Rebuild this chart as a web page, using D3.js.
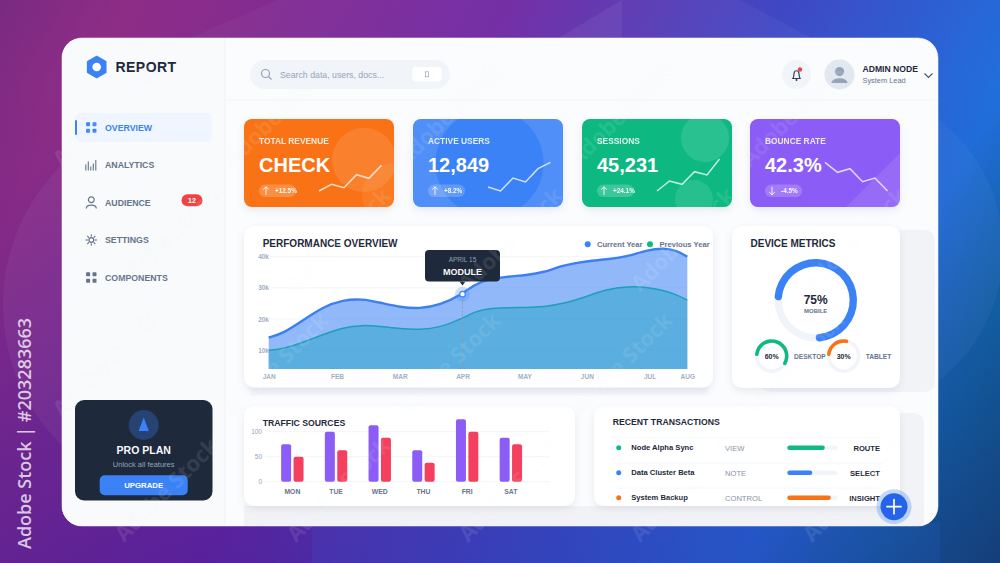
<!DOCTYPE html>
<html>
<head>
<meta charset="utf-8">
<script src="https://cdn.jsdelivr.net/npm/d3@7"></script>
<style>
    body { margin: 0; background: #3a2a9a; overflow: hidden; }
    svg { display: block; font-family: "Liberation Sans", Arial, sans-serif; }
</style>
</head>
<body>
<div class="container"></div>
<script>
// Chart values
const navItems = ["OVERVIEW", "ANALYTICS", "AUDIENCE", "SETTINGS", "COMPONENTS"]

const kpiTitles = ["TOTAL REVENUE", "ACTIVE USERS", "SESSIONS", "BOUNCE RATE"]
const kpiValues = ["CHECK", "12,849", "45,231", "42.3%"]
const kpiChanges = ["+12.5%", "+8.2%", "+24.1%", "-4.5%"]
const kpiColors = ["#f97316", "#3b82f6", "#10b981", "#8b5cf6"]
const kpiSparks = [
    [0, 6.7, 3.3, 16.3, 12.7, 25.7],
    [4, 0, 13, 9, 22.3, 28.7],
    [0, 10, 6.7, 19.3, 16, 32],
    [28.7, 18.7, 22.3, 9.3, 13, 0]
]

const months = ["JAN", "FEB", "MAR", "APR", "MAY", "JUN", "JUL", "AUG"]
const monthPos = [0, 16.3, 31.3, 46.3, 61.1, 76, 91, 100]
const samplePos = [0, 3.5, 8.3, 13.1, 17.8, 22.2, 26.6, 31.4, 36.1, 40.9, 46.3, 48.9, 52.1, 56.8, 61.6, 65.6, 70.4, 76, 80.7, 85.5, 90.3, 94.3, 97.5, 100]
const currentYear = [14.1, 15.4, 19.7, 24.0, 26.1, 26.5, 25.3, 23.8, 23.3, 24.5, 28.0, 30.9, 32.7, 33.6, 34.1, 34.9, 37.3, 38.6, 39.1, 40.0, 42.1, 42.8, 42.0, 40.0]
const previousYear = [10, 10.4, 12.6, 15.1, 17.3, 18.1, 17.7, 16.9, 16.6, 17.3, 20.2, 22.2, 23.4, 23.7, 23.7, 23.9, 24.9, 27.3, 29.5, 30.5, 30.3, 29.2, 27.8, 26.1]
const perfTicks = [10, 20, 30, 40]

const deviceNames = ["MOBILE", "DESKTOP", "TABLET"]
const deviceValues = [75, 60, 30]
const deviceColors = ["#3b82f6", "#10b981", "#f97316"]

const days = ["MON", "TUE", "WED", "THU", "FRI", "SAT"]
const trafficA = [75, 100, 113, 63, 125, 88]
const trafficB = [50, 63, 88, 38, 100, 75]
const trafficTicks = [0, 50, 100]

const txNames = ["Node Alpha Sync", "Data Cluster Beta", "System Backup"]
const txTags = ["VIEW", "NOTE", "CONTROL"]
const txProgress = [75, 50, 87]
const txActions = ["ROUTE", "SELECT", "INSIGHT"]
const txColors = ["#10b981", "#3b82f6", "#f97316"]

const svg = d3.select(".container")
    .append("svg")
    .attr("width", 1000)
    .attr("height", 563)

const defs = svg.append("defs")

function linear(id, x1, y1, x2, y2, stops) {
    const g = defs.append("linearGradient")
        .attr("id", id)
        .attr("gradientUnits", "userSpaceOnUse")
        .attr("x1", x1).attr("y1", y1).attr("x2", x2).attr("y2", y2)
    stops.forEach(s => g.append("stop")
        .attr("offset", s[0])
        .attr("stop-color", s[1])
        .attr("stop-opacity", s[2] === undefined ? 1 : s[2]))
}

linear("bg", 0, 0, 1000, 563, [[0, "#7a2a82"], [0.1, "#8e2d86"], [0.39, "#7029a4"], [0.6, "#4048c4"], [0.8, "#2070dc"], [0.9, "#0c6aa0"], [1, "#0a5570"]])
linear("bgShade", 0, 80, 0, 563, [[0, "#2a128a", 0], [1, "#2a128a", 0.34]])

const shadow = defs.append("filter").attr("id", "shadow")
    .attr("x", "-15%").attr("y", "-15%").attr("width", "130%").attr("height", "140%")
shadow.append("feDropShadow")
    .attr("dx", 0).attr("dy", 3).attr("stdDeviation", 3)
    .attr("flood-color", "#64748b").attr("flood-opacity", 0.14)

const soft = defs.append("filter").attr("id", "soft")
    .attr("x", "-10%").attr("y", "-10%").attr("width", "120%").attr("height", "120%")
soft.append("feGaussianBlur").attr("stdDeviation", 1.5)

defs.append("clipPath").attr("id", "panelClip")
    .append("rect")
    .attr("x", 62).attr("y", 38).attr("width", 876).attr("height", 488).attr("rx", 20)

// Little helper for all the labels
function label(parent, x, y, str, size, color, weight, anchor) {
    return parent.append("text")
        .attr("x", x)
        .attr("y", y)
        .attr("font-size", size)
        .attr("fill", color)
        .attr("font-weight", weight || "normal")
        .attr("text-anchor", anchor || "start")
        .text(str)
}

// Background
svg.append("rect").attr("width", 1000).attr("height", 563).attr("fill", "url(#bg)")
svg.append("rect").attr("width", 1000).attr("height", 563).attr("fill", "url(#bgShade)")
svg.append("circle").attr("cx", 200).attr("cy", 305).attr("r", 197).attr("fill", "#fff").attr("opacity", 0.045)
svg.append("circle").attr("cx", 838).attr("cy", 250).attr("r", 165).attr("fill", "#fff").attr("opacity", 0.035)
svg.append("path").attr("d", "M185,40L278,0H622V40Z").attr("fill", "#fff").attr("opacity", 0.03)
svg.append("path").attr("d", "M555,40L622,0V40Z").attr("fill", "#fff").attr("opacity", 0.06)
svg.append("path").attr("d", "M622,0H740L815,40H622Z").attr("fill", "#fff").attr("opacity", 0.04)
svg.append("rect").attr("x", 312).attr("y", 523).attr("width", 628).attr("height", 40).attr("fill", "#3b82f6").attr("opacity", 0.1)

// Main panel
svg.append("rect")
    .attr("x", 62).attr("y", 38).attr("width", 876).attr("height", 488).attr("rx", 20)
    .attr("fill", "#fbfcfe")
    .attr("stroke", "#fff").attr("stroke-opacity", 0.5)

const panel = svg.append("g").attr("clip-path", "url(#panelClip)")
panel.append("rect").attr("x", 62).attr("y", 38).attr("width", 163).attr("height", 488).attr("fill", "#f8fafc")
panel.append("line").attr("x1", 225).attr("x2", 225).attr("y1", 38).attr("y2", 526).attr("stroke", "#f1f5f9")
panel.append("line").attr("x1", 225).attr("x2", 938).attr("y1", 100).attr("y2", 100).attr("stroke", "#f1f5f9")

// Gray blocks that sit behind the lower cards
panel.append("rect").attr("x", 760).attr("y", 230).attr("width", 175).attr("height", 162).attr("rx", 10).attr("fill", "#f1f3f6")
panel.append("rect").attr("x", 610).attr("y", 413).attr("width", 314).attr("height", 130).attr("rx", 10).attr("fill", "#f1f3f6")
panel.append("rect").attr("x", 244).attr("y", 506).attr("width", 680).attr("height", 30).attr("fill", "#f1f2f6")
panel.append("rect").attr("x", 250).attr("y", 385).attr("width", 458).attr("height", 10).attr("fill", "#f1f4f8").attr("filter", "url(#soft)")

// Logo
const hex = d3.range(6).map(i => {
    const a = Math.PI / 3 * i - Math.PI / 2
    return [96.7 + 10.5 * Math.cos(a), 67 + 10.5 * Math.sin(a)]
})
svg.append("path").attr("d", d3.line().curve(d3.curveLinearClosed)(hex))
    .attr("fill", "#3b82f6").attr("stroke", "#3b82f6").attr("stroke-width", 1.5).attr("stroke-linejoin", "round")
svg.append("circle").attr("cx", 96.7).attr("cy", 67).attr("r", 4.3).attr("fill", "#fff")
label(svg, 115.5, 71.5, "REPORT", 14, "#1e293b", "bold").attr("letter-spacing", 0.45)

// Sidebar
const navY = d3.scalePoint().domain(navItems).range([127.5, 277.5])
svg.append("rect").attr("x", 75).attr("y", 113).attr("width", 137).attr("height", 29).attr("rx", 6).attr("fill", "#eff6ff")
svg.append("rect").attr("x", 75).attr("y", 120).attr("width", 2).attr("height", 15).attr("rx", 1).attr("fill", "#3b82f6")

navItems.forEach((name, i) => {
    const y = navY(name)
    const color = i === 0 ? "#3b82f6" : "#64748b"
    label(svg, 105, y + 3.1, name, 8.75, color, "bold")
    const icon = svg.append("g").attr("transform", `translate(91.3, ${y})`)
    if (i === 0 || i === 4) {
        [[-5.2, -5.2], [1.2, -5.2], [-5.2, 1.2], [1.2, 1.2]].forEach(p => {
            icon.append("rect").attr("x", p[0]).attr("y", p[1]).attr("width", 4).attr("height", 4).attr("rx", 0.7).attr("fill", color)
        })
    }
    if (i === 1) {
        [[-5.5, 6], [-3, 9], [-0.5, 4], [2, 7], [4.5, 10.5]].forEach(b => {
            icon.append("line").attr("x1", b[0]).attr("x2", b[0]).attr("y1", 5.5).attr("y2", 5.5 - b[1])
                .attr("stroke", color).attr("stroke-width", 1.1)
        })
    }
    if (i === 2) {
        icon.append("circle").attr("cy", -2.8).attr("r", 2.9).attr("fill", "none").attr("stroke", color).attr("stroke-width", 1.2)
        icon.append("path").attr("d", "M-5,6C-5,1.5,5,1.5,5,6").attr("fill", "none").attr("stroke", color).attr("stroke-width", 1.2)
    }
    if (i === 3) {
        icon.append("circle").attr("r", 2.4).attr("fill", "none").attr("stroke", color).attr("stroke-width", 1.2)
        d3.range(8).forEach(k => {
            const a = k * Math.PI / 4
            icon.append("line")
                .attr("x1", 3.4 * Math.cos(a)).attr("y1", 3.4 * Math.sin(a))
                .attr("x2", 5.7 * Math.cos(a)).attr("y2", 5.7 * Math.sin(a))
                .attr("stroke", color).attr("stroke-width", 1.1)
        })
    }
})
svg.append("rect").attr("x", 181.5).attr("y", 194.2).attr("width", 21).attr("height", 12).attr("rx", 6).attr("fill", "#ef4444")
label(svg, 192, 202.7, "12", 7, "#fff", "bold", "middle")

// Pro plan box
svg.append("rect").attr("x", 75).attr("y", 400).attr("width", 137.5).attr("height", 100.5).attr("rx", 9).attr("fill", "#1e293b")
svg.append("circle").attr("cx", 143.7).attr("cy", 425).attr("r", 15).attr("fill", "#3b82f6").attr("opacity", 0.3)
svg.append("path").attr("d", "M143.7,417.5L148.8,431H138.6Z").attr("fill", "#3b82f6")
label(svg, 143.7, 454, "PRO PLAN", 10.5, "#f8fafc", "bold", "middle")
label(svg, 143.7, 466.5, "Unlock all features", 7.5, "#94a3b8", "normal", "middle")
svg.append("rect").attr("x", 99.7).attr("y", 475.3).attr("width", 88).attr("height", 20).attr("rx", 5).attr("fill", "#3b82f6")
label(svg, 143.7, 488.2, "UPGRADE", 7.8, "#fff", "bold", "middle")

// Header
svg.append("rect").attr("x", 250).attr("y", 60).attr("width", 200).attr("height", 29).attr("rx", 14.5).attr("fill", "#f1f5f9")
svg.append("circle").attr("cx", 265.5).attr("cy", 73.5).attr("r", 4).attr("fill", "none").attr("stroke", "#94a3b8").attr("stroke-width", 1.2)
svg.append("line").attr("x1", 268.5).attr("y1", 76.5).attr("x2", 271.5).attr("y2", 79.5).attr("stroke", "#94a3b8").attr("stroke-width", 1.2)
label(svg, 280, 77.8, "Search data, users, docs...", 8.75, "#94a3b8")
svg.append("rect").attr("x", 412.5).attr("y", 67).attr("width", 29).attr("height", 14.5).attr("rx", 3).attr("fill", "#fff")
svg.append("rect").attr("x", 425.5).attr("y", 71.8).attr("width", 3).attr("height", 5).attr("fill", "none").attr("stroke", "#94a3b8").attr("stroke-width", 0.7)

svg.append("circle").attr("cx", 796.5).attr("cy", 74.5).attr("r", 14.5).attr("fill", "#f1f5f9")
svg.append("path").attr("d", "M792.8,78.5C794.2,76.5,793.8,74,794.2,72.5C794.8,70.2,798.2,70.2,798.8,72.5C799.2,74,798.8,76.5,800.2,78.5Z")
    .attr("fill", "none").attr("stroke", "#334155").attr("stroke-width", 1.2)
svg.append("circle").attr("cx", 796.5).attr("cy", 80).attr("r", 1).attr("fill", "#334155")
svg.append("circle").attr("cx", 800).attr("cy", 69.5).attr("r", 2.2).attr("fill", "#ef4444")

svg.append("circle").attr("cx", 839.5).attr("cy", 74.5).attr("r", 15).attr("fill", "#e2e8f0")
svg.append("circle").attr("cx", 839.5).attr("cy", 71.5).attr("r", 4.6).attr("fill", "#94a3b8")
svg.append("path").attr("d", "M831.5,83C831.5,76.5,847.5,76.5,847.5,83Z").attr("fill", "#94a3b8")
label(svg, 862.5, 72, "ADMIN NODE", 8.6, "#1e293b", "bold")
label(svg, 862.5, 83.3, "System Lead", 7.4, "#64748b")
svg.append("path").attr("d", "M924.5,73.5L928.5,77.5L932.5,73.5").attr("fill", "none").attr("stroke", "#475569").attr("stroke-width", 1.1)

// KPI cards
const cardLeft = [244, 413, 582, 750]
const sparkX = d3.scaleLinear().domain([0, 5]).range([75, 137.5])
const sparkY = d3.scaleLinear().domain([0, 32]).range([191, 159])
const sparkLine = d3.line().x((d, i) => sparkX(i)).y(d => sparkY(d)).curve(d3.curveLinear)

kpiTitles.forEach((title, i) => {
    const x0 = cardLeft[i]
    defs.append("clipPath").attr("id", "kpi" + i)
        .append("rect").attr("x", x0).attr("y", 119).attr("width", 150).attr("height", 88).attr("rx", 8)

    svg.append("rect").attr("x", x0).attr("y", 119).attr("width", 150).attr("height", 88).attr("rx", 8)
        .attr("fill", kpiColors[i]).attr("filter", "url(#shadow)")

    const deco = svg.append("g").attr("clip-path", `url(#kpi${i})`)
    if (i === 0) {
        deco.append("circle").attr("cx", x0 + 120).attr("cy", 160).attr("r", 32).attr("fill", "#fff").attr("opacity", 0.1)
        deco.append("circle").attr("cx", x0 + 150).attr("cy", 195).attr("r", 32).attr("fill", "#fff").attr("opacity", 0.06)
    }
    if (i === 1) {
        deco.append("path").attr("fill", "#fff").attr("opacity", 0.11).attr("fill-rule", "evenodd")
            .attr("d", `M${x0},119h150v88h-150ZM${x0 + 22.5},163a54,54,0,1,0,108,0a54,54,0,1,0,-108,0Z`)
    }
    if (i === 2) {
        deco.append("circle").attr("cx", x0 + 123).attr("cy", 138).attr("r", 24).attr("fill", "#fff").attr("opacity", 0.12)
        deco.append("circle").attr("cx", x0 + 112).attr("cy", 199).attr("r", 19).attr("fill", "#fff").attr("opacity", 0.1)
    }
    if (i === 3) {
        deco.append("path").attr("d", `M${x0 + 96},207L${x0 + 150},153V207Z`).attr("fill", "#fff").attr("opacity", 0.1)
    }

    label(svg, x0 + 15, 144, title, 8.4, "#fff", "bold").attr("opacity", 0.85)
    label(svg, x0 + 15, 171.5, kpiValues[i], 20, "#fff", "bold")

    svg.append("rect").attr("x", x0 + 15).attr("y", 184.6).attr("width", 37).attr("height", 12.5).attr("rx", 6.2).attr("fill", "#fff").attr("opacity", 0.2)
    // arrow points up for a rise, down for a drop
    const dir = kpiChanges[i][0] === "+" ? -1 : 1
    const ax = x0 + 22
    const ay = 190.8
    svg.append("path")
        .attr("d", `M${ax},${ay - 4 * dir}V${ay + 4 * dir}M${ax - 2.8},${ay + 1.3 * dir}L${ax},${ay + 4 * dir}L${ax + 2.8},${ay + 1.3 * dir}`)
        .attr("fill", "none").attr("stroke", "#fff").attr("stroke-width", 0.9)
    label(svg, x0 + 31, 193.2, kpiChanges[i], 6.4, "#fff", "bold").attr("opacity", 0.92)

    svg.append("path")
        .attr("transform", `translate(${x0}, 0)`)
        .attr("d", sparkLine(kpiSparks[i]))
        .attr("fill", "none").attr("stroke", "#fff").attr("stroke-opacity", 0.75).attr("stroke-width", 1.5)
})

// Performance overview
svg.append("rect").attr("x", 244).attr("y", 226).attr("width", 469).attr("height", 161.5).attr("rx", 10)
    .attr("fill", "#fff").attr("filter", "url(#shadow)")
label(svg, 262.7, 247.3, "PERFORMANCE OVERVIEW", 10, "#1e293b", "bold")

svg.append("circle").attr("cx", 587.7).attr("cy", 244.3).attr("r", 3).attr("fill", "#3b82f6")
label(svg, 597, 247, "Current Year", 7.6, "#64748b", "bold")
svg.append("circle").attr("cx", 650).attr("cy", 244.3).attr("r", 3).attr("fill", "#10b981")
label(svg, 659.5, 247, "Previous Year", 7.6, "#64748b", "bold")

const perfX = d3.scaleLinear().domain([0, 100]).range([268.7, 687.3])
const perfY = d3.scaleLinear().domain([4, 40]).range([369, 256.7])
const perfCurve = d3.curveBasis

svg.append("g").selectAll("line").data(perfTicks).join("line")
    .attr("x1", perfX(0)).attr("x2", perfX(100))
    .attr("y1", d => perfY(d)).attr("y2", d => perfY(d))
    .attr("stroke", "#f1f5f9")

const perfArea = d3.area().x((d, i) => perfX(samplePos[i])).y0(perfY(4)).y1(d => perfY(d)).curve(perfCurve)
const perfLine = d3.line().x((d, i) => perfX(samplePos[i])).y(d => perfY(d)).curve(perfCurve)

svg.append("path").attr("d", perfArea(currentYear)).attr("fill", "#3b82f6").attr("fill-opacity", 0.56)
svg.append("path").attr("d", perfArea(previousYear)).attr("fill", "#2ea6cc").attr("fill-opacity", 0.56)
svg.append("path").attr("d", perfLine(previousYear)).attr("fill", "none").attr("stroke", "#1f9fb8").attr("stroke-width", 1.5)
svg.append("path").attr("d", perfLine(currentYear)).attr("fill", "none").attr("stroke", "#3b7ff2").attr("stroke-width", 2.4)

const perfXAxis = svg.append("g")
    .attr("transform", `translate(0, ${perfY(4)})`)
    .call(d3.axisBottom(perfX).tickValues(monthPos).tickFormat((d, i) => months[i]).tickSize(0).tickPadding(5))
const perfYAxis = svg.append("g")
    .attr("transform", "translate(270, 0)")
    .call(d3.axisLeft(perfY).tickValues(perfTicks).tickFormat(d => d + "k").tickSize(0).tickPadding(1))
;[perfXAxis, perfYAxis].forEach(a => {
    a.select(".domain").remove()
    a.selectAll("text").attr("font-family", "Liberation Sans").attr("font-size", 6.5).attr("font-weight", "bold").attr("fill", "#a3aec2")
})

// Tooltip at April
const aprX = perfX(monthPos[3])
const aprValue = currentYear[samplePos.indexOf(monthPos[3])]
svg.append("line").attr("x1", aprX).attr("x2", aprX).attr("y1", perfY(aprValue)).attr("y2", perfY(4))
    .attr("stroke", "#8f98a8").attr("stroke-dasharray", "2.5,1.5").attr("stroke-width", 0.8)
svg.append("circle").attr("cx", aprX).attr("cy", perfY(aprValue)).attr("r", 7.5).attr("fill", "#3b82f6").attr("opacity", 0.25)
svg.append("circle").attr("cx", aprX).attr("cy", perfY(aprValue)).attr("r", 2.8).attr("fill", "#fff").attr("stroke", "#3b82f6").attr("stroke-width", 1.2)
svg.append("rect").attr("x", 425).attr("y", 250).attr("width", 75).attr("height", 31.5).attr("rx", 4).attr("fill", "#1e293b")
svg.append("path").attr("d", `M${aprX - 3},281.5L${aprX},285.5L${aprX + 3},281.5Z`).attr("fill", "#1e293b")
label(svg, 462.5, 262.3, "APRIL 15", 6.5, "#94a3b8", "normal", "middle")
label(svg, 462.5, 274.5, "MODULE", 9, "#f8fafc", "bold", "middle")

// Device metrics
svg.append("rect").attr("x", 732).attr("y", 226).attr("width", 168).attr("height", 162).attr("rx", 10)
    .attr("fill", "#fff").attr("filter", "url(#shadow)")
label(svg, 750.5, 247.3, "DEVICE METRICS", 10, "#1e293b", "bold")

const ringAngle = d3.scaleLinear().domain([0, 100]).range([-Math.PI / 2, Math.PI * 1.5])
function ring(cx, cy, outer, width, value, color) {
    const arc = d3.arc().innerRadius(outer - width).outerRadius(outer).cornerRadius(width / 2)
    const g = svg.append("g").attr("transform", `translate(${cx}, ${cy})`)
    g.append("path").attr("d", arc({ startAngle: 0, endAngle: Math.PI * 2 })).attr("fill", "#f1f5f9")
    g.append("path").attr("d", arc({ startAngle: ringAngle(0), endAngle: ringAngle(value) })).attr("fill", color)
}
ring(815.7, 300.3, 41.3, 7.4, deviceValues[0], deviceColors[0])
ring(771.7, 356, 16.8, 3.6, deviceValues[1], deviceColors[1])
ring(843.7, 356, 16.8, 3.6, deviceValues[2], deviceColors[2])

label(svg, 815.7, 304, deviceValues[0] + "%", 12, "#1e293b", "bold", "middle")
label(svg, 815.7, 313, deviceNames[0], 6, "#64748b", "bold", "middle")
label(svg, 771.7, 358.5, deviceValues[1] + "%", 7, "#1e293b", "bold", "middle")
label(svg, 794, 359, deviceNames[1], 6.6, "#64748b", "bold")
label(svg, 843.7, 358.5, deviceValues[2] + "%", 7, "#1e293b", "bold", "middle")
label(svg, 865.7, 359, deviceNames[2], 6.6, "#64748b", "bold")

// Traffic sources
svg.append("rect").attr("x", 244).attr("y", 406.5).attr("width", 331).attr("height", 99.5).attr("rx", 10)
    .attr("fill", "#fff").attr("filter", "url(#shadow)")
label(svg, 262.7, 425.5, "TRAFFIC SOURCES", 8.7, "#1e293b", "bold")

const barX = d3.scaleBand().domain(days).range([270.5, 532.7])
const barY = d3.scaleLinear().domain([0, 100]).range([481.7, 431.7])

svg.append("g").selectAll("line").data(trafficTicks).join("line")
    .attr("x1", 265).attr("x2", 550)
    .attr("y1", d => barY(d)).attr("y2", d => barY(d))
    .attr("stroke", "#f1f5f9")

const barW = 10
const barGap = 2.4
svg.append("g").selectAll("rect").data(trafficA).join("rect")
    .attr("x", (d, i) => barX(days[i]) + barX.bandwidth() / 2 - barW - barGap / 2)
    .attr("y", d => barY(d))
    .attr("width", barW)
    .attr("height", d => barY(0) - barY(d))
    .attr("rx", 2)
    .attr("fill", "#8b5cf6")
svg.append("g").selectAll("rect").data(trafficB).join("rect")
    .attr("x", (d, i) => barX(days[i]) + barX.bandwidth() / 2 + barGap / 2)
    .attr("y", d => barY(d))
    .attr("width", barW)
    .attr("height", d => barY(0) - barY(d))
    .attr("rx", 2)
    .attr("fill", "#f43f5e")

const barXAxis = svg.append("g")
    .attr("transform", `translate(0, ${barY(0)})`)
    .call(d3.axisBottom(barX).tickSize(0).tickPadding(7.3))
const barYAxis = svg.append("g")
    .attr("transform", "translate(263, 0)")
    .call(d3.axisLeft(barY).tickValues(trafficTicks).tickSize(0).tickPadding(1))
barXAxis.select(".domain").remove()
barYAxis.select(".domain").remove()
barXAxis.selectAll("text").attr("font-family", "Liberation Sans").attr("font-size", 6.8).attr("font-weight", "bold").attr("fill", "#64748b")
barYAxis.selectAll("text").attr("font-family", "Liberation Sans").attr("font-size", 6.5).attr("fill", "#94a3b8")

// Recent transactions
svg.append("rect").attr("x", 594).attr("y", 406.5).attr("width", 306).attr("height", 99.5).attr("rx", 10)
    .attr("fill", "#fff").attr("filter", "url(#shadow)")
label(svg, 612.7, 425, "RECENT TRANSACTIONS", 8.7, "#1e293b", "bold")

const rowY = d3.scalePoint().domain(txNames).range([447.8, 497.8])
const progX = d3.scaleLinear().domain([0, 100]).range([787.3, 837.3])

txNames.forEach((name, i) => {
    const y = rowY(name)
    svg.append("line").attr("x1", 612).attr("x2", 882).attr("y1", y - 9.8).attr("y2", y - 9.8).attr("stroke", "#f6f8fb")
    svg.append("circle").attr("cx", 618.7).attr("cy", y).attr("r", 2.5).attr("fill", txColors[i])
    label(svg, 631.3, y + 2.6, name, 7.6, "#1e293b", "bold")
    label(svg, 725, y + 2.7, txTags[i], 7.6, "#8792a5")
    svg.append("rect").attr("x", progX(0)).attr("y", y - 2.3).attr("width", progX(100) - progX(0)).attr("height", 4.6).attr("rx", 2.3).attr("fill", "#f1f5f9")
    svg.append("rect").attr("x", progX(0)).attr("y", y - 2.3).attr("width", progX(txProgress[i]) - progX(0)).attr("height", 4.6).attr("rx", 2.3).attr("fill", txColors[i])
    label(svg, 880, y + 2.7, txActions[i], 7.6, "#1e293b", "bold", "end")
})

// Floating button
svg.append("circle").attr("cx", 894).attr("cy", 506.7).attr("r", 17.5).attr("fill", "#3b82f6").attr("opacity", 0.3)
svg.append("circle").attr("cx", 894).attr("cy", 506.7).attr("r", 13.5).attr("fill", "#2563eb")
svg.append("path").attr("d", "M887,506.7H901M894,499.7V513.7").attr("stroke", "#fff").attr("stroke-width", 1.7).attr("stroke-linecap", "round")

// Watermark, only the ones that fit fully inside the picture
const wm = svg.append("g").attr("pointer-events", "none")
d3.range(-1, 5).forEach(r => d3.range(-1, 7).forEach(c => {
    const x = 110 + c * 172 + (r % 2 ? 62 : 0)
    const y = 120 + r * 125
    if (x < 62 || x > 938 || y < 62 || y > 500) return
    wm.append("text")
        .attr("transform", `translate(${x}, ${y}) rotate(-45)`)
        .attr("text-anchor", "middle")
        .attr("font-family", "Open Sans")
        .attr("font-weight", "bold")
        .attr("font-size", 22)
        .attr("fill", "#fff")
        .attr("fill-opacity", 0.1)
        .attr("stroke", "#94a3b8")
        .attr("stroke-opacity", 0.035)
        .text("Adobe Stock")
}))

svg.append("text")
    .attr("transform", "translate(31, 549) rotate(-90)")
    .attr("font-family", "Open Sans")
    .attr("font-weight", 600)
    .attr("font-size", 18)
    .attr("fill", "#fff")
    .attr("fill-opacity", 0.75)
    .text("Adobe Stock | #203283663")
</script>
</body>
</html>
